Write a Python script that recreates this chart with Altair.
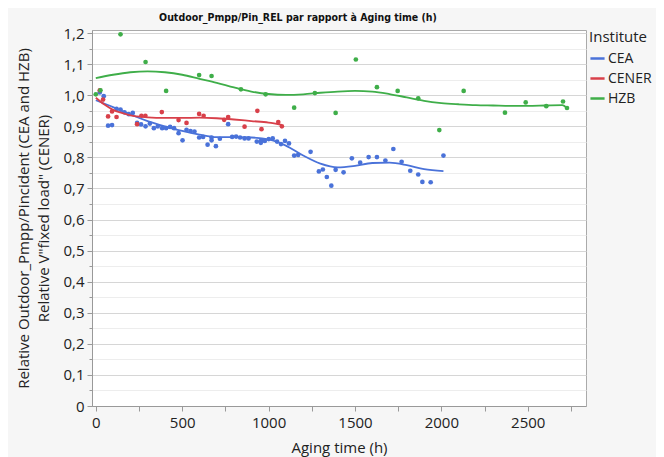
import altair as alt
import pandas as pd

# ---- data ----
cea_x = [23, 46, 71, 94, 120, 143, 166, 191, 214, 239, 262, 288, 313, 336, 359, 384, 407, 430, 453, 479,
         502, 525, 548, 571, 598, 621, 647, 670, 670, 695, 718, 766, 789, 812, 835, 861, 884, 932, 955, 957,
         978, 1001, 1024, 1049, 1072, 1095, 1118, 1148, 1171, 1243, 1291, 1314, 1337, 1363, 1388, 1434, 1482,
         1530, 1579, 1627, 1676, 1722, 1770, 1820, 1866, 1890, 1938, 2012]
cea_y = [1.009, 0.997, 0.902, 0.904, 0.956, 0.954, 0.945, 0.939, 0.943, 0.911, 0.906, 0.900, 0.909, 0.894,
         0.900, 0.894, 0.894, 0.898, 0.894, 0.878, 0.855, 0.889, 0.885, 0.883, 0.864, 0.866, 0.841, 0.864,
         0.855, 0.836, 0.860, 0.907, 0.866, 0.867, 0.864, 0.861, 0.861, 0.851, 0.847, 0.855, 0.853, 0.859,
         0.861, 0.851, 0.843, 0.853, 0.845, 0.806, 0.808, 0.818, 0.755, 0.761, 0.737, 0.709, 0.760, 0.752,
         0.797, 0.783, 0.801, 0.801, 0.790, 0.827, 0.786, 0.757, 0.745, 0.721, 0.720, 0.806]

cener_x = [23, 42, 71, 94, 120, 239, 264, 287, 382, 479, 525, 598, 624, 743, 766, 861, 935, 959, 1056, 1077]
cener_y = [1.016, 0.986, 0.932, 0.948, 0.930, 0.907, 0.934, 0.934, 0.946, 0.920, 0.911, 0.940, 0.934, 0.921,
           0.930, 0.899, 0.950, 0.891, 0.914, 0.900]

hzb_x = [0, 27, 143, 288, 407, 598, 670, 840, 983, 1148, 1268, 1388, 1505, 1627, 1747, 1866, 1988, 2129,
         2368, 2488, 2607, 2704, 2727]
hzb_y = [1.003, 1.016, 1.196, 1.107, 1.014, 1.065, 1.062, 1.019, 1.003, 0.960, 1.007, 0.943, 1.115, 1.026,
         1.014, 0.990, 0.888, 1.014, 0.944, 0.977, 0.965, 0.980, 0.959]

# smoothing curves
cea_fit_x = [0, 100, 200, 300, 400, 500, 600, 700, 800, 900, 1000, 1100, 1200, 1300, 1400, 1500, 1600,
             1700, 1800, 1900, 2012]
cea_fit_y = [0.984, 0.962, 0.938, 0.917, 0.900, 0.885, 0.873, 0.865, 0.865, 0.864, 0.858, 0.838, 0.806,
             0.780, 0.768, 0.773, 0.782, 0.783, 0.775, 0.762, 0.756]
cener_fit_x = [0, 50, 100, 150, 200, 300, 400, 500, 600, 700, 800, 900, 1000, 1077]
cener_fit_y = [0.992, 0.970, 0.953, 0.943, 0.935, 0.929, 0.927, 0.927, 0.928, 0.926, 0.922, 0.917, 0.912, 0.905]
hzb_fit_x = [0, 100, 200, 300, 400, 500, 600, 700, 800, 900, 1000, 1100, 1200, 1300, 1400, 1500, 1600, 1700,
             1800, 1900, 2000, 2100, 2200, 2300, 2400, 2500, 2600, 2700, 2727]
hzb_fit_y = [1.055, 1.066, 1.074, 1.077, 1.074, 1.066, 1.053, 1.040, 1.025, 1.012, 1.004, 1.001, 1.003,
             1.008, 1.012, 1.014, 1.012, 1.004, 0.993, 0.982, 0.975, 0.971, 0.968, 0.967, 0.966, 0.966,
             0.967, 0.968, 0.959]

institutes = ["CEA", "CENER", "HZB"]
colors = ["#4a72d9", "#d8404a", "#3fae49"]

pts = pd.concat([
    pd.DataFrame({"x": cea_x, "y": cea_y, "Institute": "CEA"}),
    pd.DataFrame({"x": cener_x, "y": cener_y, "Institute": "CENER"}),
    pd.DataFrame({"x": hzb_x, "y": hzb_y, "Institute": "HZB"}),
])
fits = pd.concat([
    pd.DataFrame({"x": cea_fit_x, "y": cea_fit_y, "Institute": "CEA"}),
    pd.DataFrame({"x": cener_fit_x, "y": cener_fit_y, "Institute": "CENER"}),
    pd.DataFrame({"x": hzb_fit_x, "y": hzb_fit_y, "Institute": "HZB"}),
])

FONT = "Open Sans"

y_vals = [round(i * 0.05, 2) for i in range(0, 25)]
x_vals = list(range(0, 2751, 250))

xscale = alt.Scale(domain=[-22, 2837], nice=False, zero=False)
yscale = alt.Scale(domain=[0, 1.21], nice=False)
cscale = alt.Scale(domain=institutes, range=colors)

x_enc = alt.X("x:Q", scale=xscale, title="Aging time (h)",
              axis=alt.Axis(values=x_vals, grid=False,
                            labelExpr="datum.value % 500 == 0 ? datum.label : ''",
                            format="d", tickColor="#999", domainColor="#999", tickSize=5,
                            labelFontSize=15, titleFontSize=15, labelColor="#222", titleColor="#222",
                            labelFont=FONT, titleFont=FONT, titleFontWeight="normal",
                            labelPadding=4, titlePadding=10))
y_enc = alt.Y("y:Q", scale=yscale,
              title=["Relative Outdoor_Pmpp/Pincident (CEA and HZB)", "Relative V\"fixed load\" (CENER)"],
              axis=alt.Axis(values=y_vals,
                            labelExpr="round(datum.value*100) % 10 != 0 ? '' : (datum.value == 0 ? '0' : replace(format(datum.value, '.1f'), '.', ','))",
                            gridColor={"condition": {"test": "round(datum.value*100) % 10 != 0", "value": "#ededed"},
                                       "value": "#d6d6d6"},
                            tickSize={"condition": {"test": "round(datum.value*100) % 10 != 0", "value": 3},
                                      "value": 5},
                            tickColor="#999", domainColor="#999",
                            labelFontSize=15, titleFontSize=15, labelColor="#222", titleColor="#222",
                            labelFont=FONT, titleFont=FONT, titleFontWeight="normal",
                            labelPadding=3, titlePadding=11, titleLineHeight=20))

legend = alt.Legend(title="Institute", symbolType="stroke", symbolStrokeWidth=2.5,
                    symbolSize=200, labelFontSize=14, titleFontSize=15,
                    titleFontWeight="normal", labelFont=FONT, titleFont=FONT,
                    labelColor="#222", titleColor="#222", rowPadding=4,
                    offset=3, titlePadding=5, labelOffset=2)
color_enc = alt.Color("Institute:N", scale=cscale, legend=legend)

points = alt.Chart(pts).mark_circle(size=22, opacity=1).encode(
    x=x_enc, y=y_enc, color=color_enc,
)

lines = alt.Chart(fits).mark_line(strokeWidth=1.8, interpolate="monotone").encode(
    x=x_enc, y=y_enc, color=color_enc, detail="Institute:N",
)

chart = alt.layer(points, lines).properties(
    width=494, height=376,
    background="#f6f6f6",
    autosize=alt.AutoSizeParams(type="none"),
    padding={"left": 84, "top": 22, "right": 70, "bottom": 52},
    title=alt.TitleParams("Outdoor_Pmpp/Pin_REL par rapport à Aging time (h)", fontSize=10.5,
                          font="DejaVu Sans Condensed", fontWeight="bold", color="#111",
                          anchor="middle", dx=-41, offset=3),
).configure_view(fill="white", stroke="#aaa", strokeWidth=1)

chart.save("out.html", embed_options={"renderer": "svg", "actions": False})
